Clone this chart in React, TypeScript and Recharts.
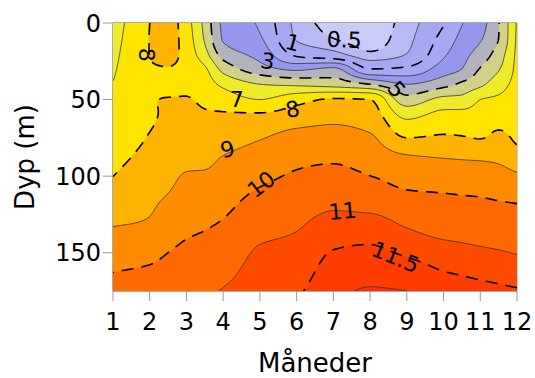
import React from 'react';
import { ScatterChart, Scatter, XAxis, YAxis } from 'recharts';

// grid columns (month) and rows (depth in m)
const months = [1, 2, 2.5, 3, 3.5, 4, 5, 6, 7, 8, 9, 10, 10.5, 11, 11.5, 12];
const depths = [0, 10, 20, 30, 40, 50, 60, 75, 90, 110, 130, 150, 175];

// temperature per depth, one value per month column
const t0 = [6.5, 8.0, 8.4, 7.4, 5.7, 3.8, 2.85, 0.8, 0.35, 0.28, 0.7, 1.9, 2.95, 3.6, 4.95, 7.1];
const t10 = [6.63, 8.02, 8.4, 7.5, 5.88, 3.9, 3.1, 0.93, 0.5, 0.33, 0.8, 2.36, 3.26, 3.89, 5.0, 7.16];
const t20 = [6.76, 8.02, 8.35, 7.6, 6.33, 4.56, 3.61, 1.71, 1.2, 0.55, 1.0, 2.82, 3.63, 4.4, 5.45, 7.22];
const t30 = [6.89, 7.9, 7.95, 7.7, 7.14, 5.67, 4.43, 3.8, 4.2, 2.0, 2.2, 3.5, 4.0, 5.07, 5.91, 7.28];
const t40 = [7.03, 7.75, 7.75, 7.87, 7.48, 6.78, 6.0, 5.8, 5.6, 5.0, 4.0, 4.67, 5.2, 5.79, 6.57, 7.34];
const t50 = [7.18, 7.95, 8.03, 8.04, 7.83, 7.53, 7.0, 7.63, 8.1, 8.0, 5.38, 6.29, 6.33, 7.0, 7.17, 7.4];
const t60 = [7.34, 7.9, 8.1, 8.22, 8.1, 8.1, 8.11, 8.45, 8.7, 8.48, 6.71, 7.28, 7.3, 7.38, 7.58, 7.57];
const t75 = [7.57, 8.05, 8.3, 8.5, 8.49, 8.62, 8.94, 9.31, 9.37, 9.13, 8.0, 8.13, 8.07, 7.96, 8.23, 7.83];
const t90 = [7.8, 8.3, 8.6, 8.84, 8.85, 9.1, 9.45, 9.83, 9.93, 9.63, 9.27, 9.09, 9.04, 9.0, 8.91, 8.56];
const t110 = [8.23, 8.75, 8.97, 9.3, 9.36, 9.57, 10.09, 10.38, 10.64, 10.41, 10.04, 9.96, 9.91, 9.87, 9.78, 9.7];
const t130 = [8.9, 9.07, 9.47, 9.75, 9.87, 10.05, 10.68, 10.9, 11.18, 11.19, 10.88, 10.63, 10.58, 10.52, 10.45, 10.38];
const t150 = [9.57, 9.73, 10.0, 10.2, 10.32, 10.52, 11.09, 11.18, 11.53, 11.6, 11.43, 11.24, 11.18, 11.11, 11.05, 10.97];
const t175 = [10.4, 10.6, 10.7, 10.75, 10.85, 11.05, 11.35, 11.45, 11.85, 12.05, 12.0, 11.75, 11.7, 11.65, 11.6, 11.55];
const tempRows = [t0, t10, t20, t30, t40, t50, t60, t75, t90, t110, t130, t150, t175];

// filled band boundaries and their colours (one more colour than levels)
const fillLevels = [0.5, 1, 3, 4, 5, 6, 7, 8, 9, 10, 11, 11.5, 12];
const bandColors = [
  '#c9cbf8', '#b8baf5', '#a6a8f1', '#9597ec', '#b3b3bd', '#d3d088', '#eeec2a',
  '#ffe400', '#ffb300', '#ff8c00', '#ff6a00', '#ff4b00', '#ff3c00', '#ff2d00',
];
const lineLevels = [0.5, 1, 2, 3, 4, 5, 6, 7, 8, 9, 10, 11, 11.5, 12];
const dashedLevels = [0.5, 2, 5, 8, 10, 11.5];

const monthTicks = [1, 2, 3, 4, 5, 6, 7, 8, 9, 10, 11, 12];
const topTicks = [2, 4, 6, 8, 10, 12];
const depthTicks = [0, 50, 100, 150];

const contourLabels = [
  { m: 7.3, d: 11, text: '0.5', angle: 2 },
  { m: 5.89, d: 13, text: '1', angle: 15 },
  { m: 5.21, d: 25, text: '3', angle: 10 },
  { m: 8.72, d: 43.5, text: '5', angle: 50 },
  { m: 4.37, d: 50, text: '7', angle: 0 },
  { m: 5.89, d: 56.5, text: '8', angle: -10 },
  { m: 1.92, d: 20.7, text: '8', angle: 90 },
  { m: 4.12, d: 82.5, text: '9', angle: -15 },
  { m: 5.04, d: 105.5, text: '10', angle: -38 },
  { m: 7.25, d: 123, text: '11', angle: -5 },
  { m: 8.69, d: 153, text: '11.5', angle: 22 },
];

type Pt = [number, number];

// monotone cubic interpolation through the grid values
function pchip(xk: number[], yk: number[]) {
  const n = xk.length;
  const h: number[] = [];
  const s: number[] = [];
  for (let i = 0; i < n - 1; i++) {
    h.push(xk[i + 1] - xk[i]);
    s.push((yk[i + 1] - yk[i]) / h[i]);
  }
  const m: number[] = new Array(n).fill(0);
  m[0] = s[0];
  m[n - 1] = s[n - 2];
  for (let i = 1; i < n - 1; i++) {
    if (s[i - 1] * s[i] > 0) {
      const w1 = 2 * h[i] + h[i - 1];
      const w2 = h[i] + 2 * h[i - 1];
      m[i] = (w1 + w2) / (w1 / s[i - 1] + w2 / s[i]);
    }
  }
  return (x: number) => {
    let i = 0;
    while (i < n - 2 && x > xk[i + 1]) i++;
    const t = (x - xk[i]) / h[i];
    const t2 = t * t;
    const t3 = t2 * t;
    return (
      (2 * t3 - 3 * t2 + 1) * yk[i] +
      (t3 - 2 * t2 + t) * h[i] * m[i] +
      (-2 * t3 + 3 * t2) * yk[i + 1] +
      (t3 - t2) * h[i] * m[i + 1]
    );
  };
}

const NX = 111;
const NY = 141;
const gridX = Array.from({ length: NX }, (_, i) => 1 + (11 * i) / (NX - 1));
const gridY = Array.from({ length: NY }, (_, i) => (175 * i) / (NY - 1));
const columns = months.map((_, j) => gridY.map(pchip(depths, tempRows.map((r) => r[j]))));
const field = gridY.map((_, r) => gridX.map(pchip(months, columns.map((c) => c[r]))));

// low border so every superlevel set closes into a loop
const LOW = -1e9;
const padX = [gridX[0] - 0.1, ...gridX, gridX[NX - 1] + 0.1];
const padY = [gridY[0] - 1, ...gridY, gridY[NY - 1] + 1];
const padded = [
  new Array(NX + 2).fill(LOW),
  ...field.map((row) => [LOW, ...row, LOW]),
  new Array(NX + 2).fill(LOW),
];

// marching squares, chained into polylines / loops
function traceContours(grid: number[][], gx: number[], gy: number[], level: number): Pt[][] {
  const adj = new Map<string, string[]>();
  const pos = new Map<string, Pt>();
  const cross = (key: string, x1: number, y1: number, v1: number, x2: number, y2: number, v2: number) => {
    if (!pos.has(key)) {
      const t = (level - v1) / (v2 - v1);
      const x = Math.min(12, Math.max(1, x1 + t * (x2 - x1)));
      const y = Math.min(175, Math.max(0, y1 + t * (y2 - y1)));
      pos.set(key, [x, y]);
    }
    return key;
  };
  const link = (a: string, b: string) => {
    if (!adj.has(a)) adj.set(a, []);
    if (!adj.has(b)) adj.set(b, []);
    adj.get(a)!.push(b);
    adj.get(b)!.push(a);
  };
  for (let r = 0; r < grid.length - 1; r++) {
    for (let c = 0; c < grid[0].length - 1; c++) {
      const a = grid[r][c];
      const b = grid[r][c + 1];
      const cc = grid[r + 1][c + 1];
      const d = grid[r + 1][c];
      const sa = a >= level, sb = b >= level, sc = cc >= level, sd = d >= level;
      const e: Record<string, string> = {};
      if (sa !== sb) e.top = cross(`h${r},${c}`, gx[c], gy[r], a, gx[c + 1], gy[r], b);
      if (sb !== sc) e.right = cross(`v${r},${c + 1}`, gx[c + 1], gy[r], b, gx[c + 1], gy[r + 1], cc);
      if (sd !== sc) e.bottom = cross(`h${r + 1},${c}`, gx[c], gy[r + 1], d, gx[c + 1], gy[r + 1], cc);
      if (sa !== sd) e.left = cross(`v${r},${c}`, gx[c], gy[r], a, gx[c], gy[r + 1], d);
      const ks = Object.keys(e);
      if (ks.length === 2) {
        link(e[ks[0]], e[ks[1]]);
      } else if (ks.length === 4) {
        const centreHigh = (a + b + cc + d) / 4 >= level;
        if (sa === centreHigh) {
          link(e.top, e.right);
          link(e.bottom, e.left);
        } else {
          link(e.top, e.left);
          link(e.right, e.bottom);
        }
      }
    }
  }
  const seen = new Set<string>();
  const out: Pt[][] = [];
  const walk = (start: string) => {
    const line: Pt[] = [];
    let prev: string | null = null;
    let cur: string | null = start;
    while (cur && !seen.has(cur)) {
      seen.add(cur);
      line.push(pos.get(cur)!);
      const nb: string[] = adj.get(cur)!;
      const next: string | undefined = nb.find((k) => k !== prev && !seen.has(k));
      prev = cur;
      cur = next ?? null;
    }
    return line;
  };
  for (const [k, nb] of adj) if (nb.length === 1 && !seen.has(k)) out.push(walk(k));
  for (const k of adj.keys()) {
    if (!seen.has(k)) {
      const loop = walk(k);
      loop.push(loop[0]);
      out.push(loop);
    }
  }
  return out.filter((l) => l.length > 1);
}

const toSeries = (loops: Pt[][]) => ({
  data: loops.flat().map(([m, d]) => ({ m, d })),
  sizes: loops.map((l) => l.length),
});

const plotFrame = toSeries([[[1, 0], [12, 0], [12, 175], [1, 175]]]);
const fillBands = fillLevels.map((lv, k) => ({
  color: bandColors[k + 1],
  ...toSeries(traceContours(padded, padX, padY, lv)),
}));
const isolines = lineLevels.map((lv) => ({
  level: lv,
  dashed: dashedLevels.includes(lv),
  ...toSeries(traceContours(field, gridX, gridY, lv)),
}));

function pathFrom(points: { x: number; y: number }[], sizes: number[], close: boolean) {
  let d = '';
  let i = 0;
  for (const n of sizes) {
    const seg = points.slice(i, i + n);
    i += n;
    d += 'M' + seg.map((p) => `${p.x.toFixed(2)},${p.y.toFixed(2)}`).join('L') + (close ? 'Z' : '');
  }
  return d;
}

const noDot = () => <g />;

const renderLabel = (p: any) => (
  <text
    x={p.cx}
    y={p.cy}
    transform={`rotate(${p.payload.angle} ${p.cx} ${p.cy})`}
    textAnchor="middle"
    dominantBaseline="central"
    fontSize={22}
    fill="#000"
  >
    {p.payload.text}
  </text>
);

const tickStyle = { fill: '#000', fontSize: 24 };

export default function App() {
  return (
    <div
      style={{
        position: 'absolute',
        left: 0,
        top: 0,
        width: 535,
        height: 378,
        background: '#fff',
        fontFamily: '"DejaVu Sans", Verdana, sans-serif',
      }}
    >
      <ScatterChart width={535} height={378} margin={{ top: 13, right: 8, bottom: 0, left: 0 }}>
        <Scatter
          data={plotFrame.data}
          shape={noDot}
          isAnimationActive={false}
          line={(p: any) => <path d={pathFrom(p.points, plotFrame.sizes, true)} fill={bandColors[0]} />}
        />
        {fillBands.map((band, i) => (
          <Scatter
            key={`band-${i}`}
            data={band.data}
            shape={noDot}
            isAnimationActive={false}
            line={(p: any) => (
              <path d={pathFrom(p.points, band.sizes, true)} fill={band.color} fillRule="evenodd" stroke="none" />
            )}
          />
        ))}
        {isolines.map((iso) => (
          <Scatter
            key={`iso-${iso.level}`}
            data={iso.data}
            shape={noDot}
            isAnimationActive={false}
            line={(p: any) => (
              <path
                d={pathFrom(p.points, iso.sizes, false)}
                fill="none"
                stroke={iso.dashed ? '#000' : '#333'}
                strokeWidth={iso.dashed ? 1.6 : 0.8}
                strokeDasharray={iso.dashed ? '12 8' : undefined}
              />
            )}
          />
        ))}
        <Scatter data={contourLabels} shape={renderLabel} isAnimationActive={false} />
        <XAxis
          type="number"
          dataKey="m"
          domain={[1, 12]}
          ticks={monthTicks}
          interval={0}
          allowDataOverflow
          height={87}
          tickSize={10}
          tickMargin={12}
          tick={tickStyle}
          tickLine={{ stroke: '#999' }}
          axisLine={{ stroke: '#555' }}
          label={{ value: 'Måneder', position: 'insideBottom', offset: 6, style: { fill: '#000', fontSize: 26 } }}
        />
        <XAxis
          xAxisId="top"
          orientation="top"
          type="number"
          domain={[1, 12]}
          ticks={topTicks}
          interval={0}
          allowDataOverflow
          height={10}
          tickSize={10}
          tick={false}
          tickLine={{ stroke: '#999' }}
          axisLine={{ stroke: '#555' }}
        />
        <YAxis
          type="number"
          dataKey="d"
          domain={[0, 175]}
          reversed
          ticks={depthTicks}
          interval={0}
          allowDataOverflow
          width={113}
          tickSize={10}
          tick={tickStyle}
          tickLine={{ stroke: '#999' }}
          axisLine={{ stroke: '#555' }}
          label={{
            value: 'Dyp (m)',
            angle: -90,
            position: 'insideLeft',
            offset: 25,
            style: { fill: '#000', fontSize: 26, textAnchor: 'middle' },
          }}
        />
        <YAxis
          yAxisId="right"
          orientation="right"
          type="number"
          domain={[0, 175]}
          reversed
          ticks={depthTicks}
          interval={0}
          allowDataOverflow
          width={10}
          tickSize={10}
          tick={false}
          tickLine={{ stroke: '#999' }}
          axisLine={{ stroke: '#999' }}
        />
      </ScatterChart>
    </div>
  );
}
